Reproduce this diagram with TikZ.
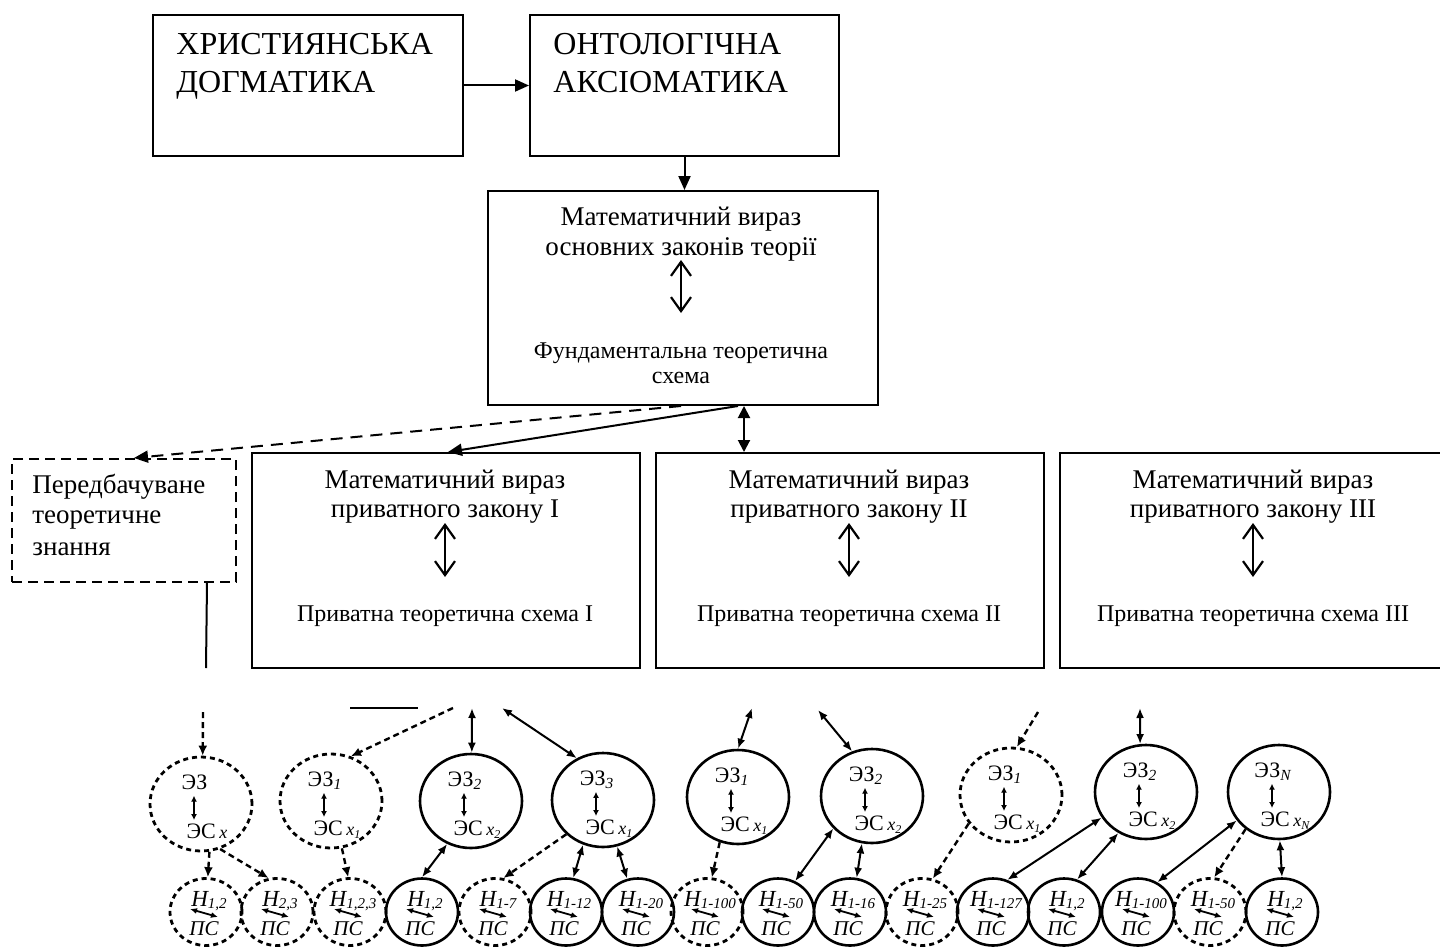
\documentclass[tikz,border=0pt]{standalone}
\usepackage{fontspec}
\setmainfont{Liberation Serif}
\usetikzlibrary{arrows.meta,shapes.geometric,calc}

\tikzset{
  tbox/.style={draw, line width=1pt, inner sep=0pt, anchor=north west},
  dbox/.style={tbox, dash pattern=on 5pt off 3pt},
  t16/.style={font=\fontsize{16pt}{19pt}\selectfont, anchor=base west, inner sep=0pt},
  tl/.style={font=\fontsize{13.5pt}{16pt}\selectfont, anchor=base, inner sep=0pt},
  tlw/.style={tl, anchor=base west},
  ts/.style={font=\fontsize{12pt}{14pt}\selectfont, anchor=base, inner sep=0pt},
  tarr/.style={line width=1pt, -{Triangle[length=7pt,width=6pt]}},
  tdarr/.style={tarr, dash pattern=on 6pt off 4pt},
  tdbl/.style={line width=1pt, {Triangle[length=6pt,width=6pt]}-{Triangle[length=6pt,width=6pt]}},
  openarr/.style={line width=1.1pt, {Straight Barb[length=7pt,width=10pt]}-{Straight Barb[length=7pt,width=10pt]}},
  tln/.style={line width=1pt},
  csol/.style={ellipse, draw, line width=1.3pt, minimum width=51pt, minimum height=47pt, inner sep=0pt},
  cdsh/.style={csol, line width=1.4pt, dash pattern=on 2.5pt off 2pt},
  hsol/.style={ellipse, draw, line width=1.3pt, minimum width=36pt, minimum height=33.5pt, inner sep=0pt},
  hdsh/.style={hsol, line width=1.4pt, dash pattern=on 2.5pt off 2pt},
  ezt/.style={font=\fontsize{11pt}{13pt}\selectfont, anchor=base, inner sep=0.5pt},
  ht/.style={font=\fontsize{10.5pt}{12pt}\selectfont\itshape, anchor=base, inner sep=0.5pt},
  iarr/.style={line width=0.9pt, >={Latex[length=3pt,width=3pt]}, <->},
  harr/.style={line width=0.9pt, >={Latex[length=3.5pt,width=3pt]}, <->},
  bdbl/.style={line width=1pt, >={Latex[length=5pt,width=4pt]}, <->},
  bdsh/.style={line width=1.2pt, dash pattern=on 3pt off 2pt, >={Latex[length=5pt,width=4.5pt]}, ->},
  bln/.style={line width=1pt}
}

\newcommand\ezcirc[6]{%
  \node[#2] (#1) at (#3,#4) {};
  \node[ezt] (#1z) at ($(#1.center)+(-6,-15)$) {ЭЗ\textsubscript{\itshape #5}};
  \node[ezt] (#1s) at ($(#1.center)+(6,34)$) {ЭС\,{\fontsize{9pt}{9pt}\selectfont\itshape x\raisebox{-1.5pt}{\fontsize{6pt}{6pt}\selectfont #6}}};
  \draw[iarr] ([xshift=-0.5pt,yshift=-1pt]#1z.south) -- ([xshift=-6.5pt,yshift=1pt]#1s.north);
}
\newcommand\hcirc[5]{%
  \node[#2] (#1) at (#3,#4) {};
  \node[ht] (#1h) at ($(#1.center)+(3,-6)$) {{\fontsize{11.5pt}{12pt}\selectfont Н}\raisebox{-1pt}{\fontsize{7.5pt}{8pt}\selectfont #5}};
  \node[ht] (#1p) at ($(#1.center)+(-2,23)$) {ПС};
  \draw[harr] ($(#1.center)+(-16,-3)$) -- ($(#1.center)+(12,5)$);
}

\begin{document}
\begin{tikzpicture}[x=0.5pt,y=-0.5pt]
\fill[white] (0,0) rectangle (1440,947);
\useasboundingbox (0,0) rectangle (1440,947);

% top boxes
\node[tbox, minimum width=155pt, minimum height=70.5pt] (b1) at (152,14) {};
\node[t16] (b1a) at (176,55) {ХРИСТИЯНСЬКА};
\node[t16] (b1b) at (176,93) {ДОГМАТИКА};
\node[tbox, minimum width=154.5pt, minimum height=70.5pt] (b2) at (529,14) {};
\node[t16] (b2a) at (553,55) {ОНТОЛОГІЧНА};
\node[t16] (b2b) at (553,93) {АКСІОМАТИКА};
\draw[tarr] (b1.east) -- (b2.west);

\node[tbox, minimum width=195pt, minimum height=107pt] (b3) at (487,190) {};
\node[tl] (b3a) at (681,225) {Математичний вираз};
\node[tl] (b3b) at (681,255) {основних законів теорії};
\node[ts] (b3c) at (681,358) {Фундаментальна теоретична};
\node[ts] (b3d) at (681,383) {схема};
\draw[openarr] ([yshift=-2.5pt]b3b.base) -- ([yshift=-29pt]b3b.base);
\draw[tarr] (b2.south) -- (b2.south |- b3.north);

% dashed box
\node[dbox, minimum width=112pt, minimum height=61.5pt] (db) at (11,458) {};
\node[tlw] (dba) at (32,493) {Передбачуване};
\node[tlw] (dbb) at (32,523) {теоретичне};
\node[tlw] (dbc) at (32,555) {знання};
\coordinate (dl) at (206,668);
\draw[tln] ([xshift=41.5pt]db.south) -- (dl);

% private boxes
\node[tbox, minimum width=194pt, minimum height=107.5pt] (bI) at (251,452) {};
\node[tl] (bIa) at (445,488) {Математичний вираз};
\node[tl] (bIb) at (445,517) {приватного закону I};
\node[ts] (bIc) at (445,621) {Приватна теоретична схема I};
\draw[openarr] ([yshift=-3pt]bIb.base) -- ([yshift=-30pt]bIb.base);

\node[tbox, minimum width=194pt, minimum height=107.5pt] (bII) at (655,452) {};
\node[tl] (bIIa) at (849,488) {Математичний вираз};
\node[tl] (bIIb) at (849,517) {приватного закону II};
\node[ts] (bIIc) at (849,621) {Приватна теоретична схема II};
\draw[openarr] ([yshift=-3pt]bIIb.base) -- ([yshift=-30pt]bIIb.base);

\node[tbox, minimum width=194pt, minimum height=107.5pt] (bIII) at (1059,452) {};
\node[tl] (bIIIa) at (1253,488) {Математичний вираз};
\node[tl] (bIIIb) at (1253,517) {приватного закону III};
\node[ts] (bIIIc) at (1253,621) {Приватна теоретична схема III};
\draw[openarr] ([yshift=-3pt]bIIIb.base) -- ([yshift=-30pt]bIIIb.base);

% connectors from fundamental box
\draw[tdarr] ([xshift=-1pt]b3.south) -- ([xshift=5pt]db.north);
\draw[tarr] ([xshift=27.5pt]b3.south) -- ([xshift=1pt]bI.north);
\draw[tdbl] ([xshift=30.5pt]b3.south) -- ([xshift=-53pt]bII.north);

% lower scheme: upper circles
\ezcirc{c1}{cdsh}{201}{804}{}{}
\ezcirc{c2}{cdsh}{331}{801}{1}{1}
\ezcirc{c3}{csol}{471}{801}{2}{2}
\ezcirc{c4}{csol}{603}{800}{3}{1}
\ezcirc{c5}{csol}{738}{797}{1}{1}
\ezcirc{c6}{csol}{872}{796}{2}{2}
\ezcirc{c7}{cdsh}{1011}{795}{1}{1}
\ezcirc{c8}{csol}{1146}{792}{2}{2}
\ezcirc{c9}{csol}{1279}{792}{N}{N}

% lower circles
\hcirc{h1}{hdsh}{206}{912}{1,2}
\hcirc{h2}{hdsh}{277}{912}{2,3}
\hcirc{h3}{hdsh}{350}{912}{1,2,3}
\hcirc{h4}{hsol}{422}{912}{1,2}
\hcirc{h5}{hdsh}{495}{912}{1-7}
\hcirc{h6}{hsol}{566}{912}{1-12}
\hcirc{h7}{hsol}{638}{912}{1-20}
\hcirc{h8}{hdsh}{707}{912}{1-100}
\hcirc{h9}{hsol}{778}{912}{1-50}
\hcirc{h10}{hsol}{850}{912}{1-16}
\hcirc{h11}{hdsh}{922}{912}{1-25}
\hcirc{h12}{hsol}{993}{912}{1-127}
\hcirc{h13}{hsol}{1064}{912}{1,2}
\hcirc{h14}{hsol}{1138}{912}{1-100}
\hcirc{h15}{hdsh}{1210}{912}{1-50}
\hcirc{h16}{hsol}{1282}{912}{1,2}

% connectors between rows
\draw[bdsh] (c1.-80) -- (h1.87);
\draw[bdsh] (c1.-67) -- (h2.104);
\draw[bdsh] (c2.-77) -- (h3.93);
\draw[bdbl] (c3.-119) -- (h4.90);
\draw[bdsh] (c4.-137) -- (h5.76);
\draw[bdbl] (c4.-114) -- (h6.78);
\draw[bdbl] (c4.-73) -- (h7.108);
\draw[bdsh] (c5.-112) -- (h8.82);
\draw[bdbl] (c6.-140) -- (h9.61);
\draw[bdbl] (c6.-102) -- (h10.79);
\draw[bdsh] (c7.-146) -- (h11.72);
\draw[bdbl] (c8.-150) -- (h12.66);
\draw[bdbl] (c8.-124) -- (h13.68);
\draw[bdbl] (c9.-146) -- (h14.57);
\draw[bdsh] (c9.-132) -- (h15.83);
\draw[bdbl] (c9.-89) -- (h16.90);

% incoming connectors from above
\coordinate (u1) at (203,712);
\coordinate (u2) at (453,708);
\coordinate (u3a) at (350,708);
\coordinate (u3b) at (418,708);
\coordinate (u4) at (472,708);
\coordinate (u5) at (502,708);
\coordinate (u6) at (752,708);
\coordinate (u7) at (818,710);
\coordinate (u8) at (1038,712);
\coordinate (u9) at (1140,708);
\draw[bdsh] (u1) -- (c1.88);
\draw[bdsh] (u2) -- (c2.66);
\draw[bln] (u3a) -- (u3b);
\draw[bdbl] (u4) -- (c3.89);
\draw[bdbl] (u5) -- (c4.122);
\draw[bdbl] (u6) -- (c5.90);
\draw[bdbl] (u7) -- (c6.114);
\draw[bdsh] (u8) -- (c7.83);
\draw[bdbl] (u9) -- (c8.97);
\end{tikzpicture}
\end{document}
